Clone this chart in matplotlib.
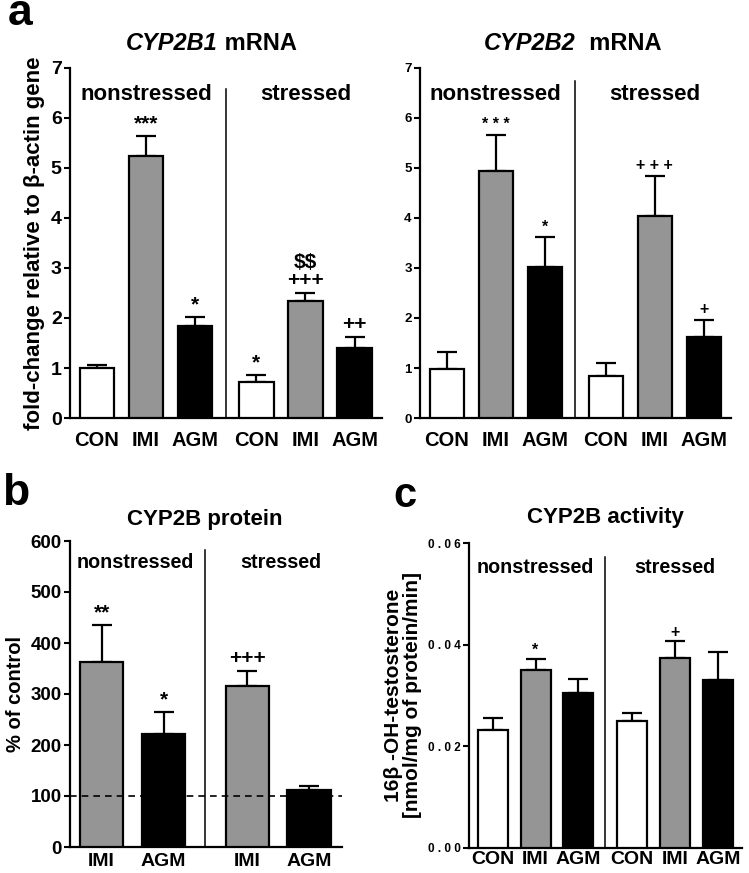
import numpy as np
import matplotlib
matplotlib.use("Agg")
import matplotlib.pyplot as plt

plt.rcParams['font.family'] = ['Liberation Sans', 'DejaVu Sans']
plt.rcParams['font.weight'] = 'bold'

# ---------------- data ----------------
groups3 = ["CON", "IMI", "AGM", "CON", "IMI", "AGM"]
groups2 = ["IMI", "AGM", "IMI", "AGM"]
colors3 = ["white", "#959595", "black", "white", "#959595", "black"]
colors2 = ["#959595", "black", "#959595", "black"]

b1_mean = [1.00, 5.25, 1.85, 0.72, 2.35, 1.40]
b1_err = [0.06, 0.40, 0.17, 0.15, 0.15, 0.22]
b1_ann = ["", "***", "*", "*", "$$\n+++", "++"]

b2_mean = [0.98, 4.95, 3.02, 0.85, 4.05, 1.62]
b2_err = [0.35, 0.72, 0.60, 0.26, 0.80, 0.35]
b2_ann = ["", "* * *", "*", "", "+ + +", "+"]

prot_mean = [362, 222, 315, 112]
prot_err = [73, 43, 30, 8]
prot_ann = ["**", "*", "+++", ""]

act_mean = [0.0232, 0.0350, 0.0305, 0.0250, 0.0373, 0.0330]
act_err = [0.0023, 0.0022, 0.0027, 0.0015, 0.0034, 0.0056]
act_ann = ["", "*", "", "", "+", ""]
act_ticks = ["0.00", "0.02", "0.04", "0.06"]

W, H = 749, 873
fig = plt.figure(figsize=(W / 100, H / 100), dpi=100)


def px_axes(l, r, b, t):
    return fig.add_axes([l / W, 1 - b / H, (r - l) / W, (b - t) / H])


def style(ax, tsize, xsize, xpad):
    for s in ["top", "right"]:
        ax.spines[s].set_visible(False)
    for s in ["left", "bottom"]:
        ax.spines[s].set_linewidth(1.6)
    ax.tick_params(axis='y', length=4, width=1.5, labelsize=tsize, pad=2)
    ax.tick_params(axis='x', length=0, labelsize=xsize, pad=xpad)
    for lab in ax.get_xticklabels() + ax.get_yticklabels():
        lab.set_fontweight('bold')


def draw(ax, pos, means, errs, cols, names, ann, ann_size, ann_gap):
    ax.bar(pos, means, width=0.7, color=cols, edgecolor='black', linewidth=1.6, zorder=3)
    ax.errorbar(pos, means, yerr=[np.zeros(len(means)), errs], fmt='none',
                ecolor='black', elinewidth=1.6, capsize=7, capthick=1.6, zorder=2)
    ax.set_xticks(pos)
    ax.set_xticklabels(names)
    for x, m, e, a in zip(pos, means, errs, ann):
        if a:
            ax.text(x, m + e + ann_gap, a, ha='center', va='bottom', fontsize=ann_size,
                    fontweight='bold', linespacing=0.95, parse_math=False)


pos3 = np.concatenate([np.arange(3), np.arange(3) + 3.25])
pos2 = np.concatenate([np.arange(2), np.arange(2) + 2.35])

# ---------- panel a left ----------
ax1 = px_axes(70, 382, 418, 68)
draw(ax1, pos3, b1_mean, b1_err, colors3, groups3, b1_ann, 15, 0.05)
ax1.set_ylim(0, 7)
ax1.set_xlim(-0.55, 5.81)
ax1.set_yticks(range(0, 8))
style(ax1, 14, 14.5, 9.5)
ax1.set_ylabel("fold-change relative to β-actin gene", fontsize=16, fontweight='bold', labelpad=4)
div = (pos3[2] + pos3[3]) / 2
ax1.plot([div, div], [0, 6.58], color='black', lw=1.1)
ax1.text(pos3[1], 6.46, "nonstressed", ha='center', va='center', fontsize=16, fontweight='bold')
ax1.text(pos3[4], 6.46, "stressed", ha='center', va='center', fontsize=16, fontweight='bold')

# ---------- panel a right ----------
ax2 = px_axes(420, 731, 418, 68)
draw(ax2, pos3, b2_mean, b2_err, colors3, groups3, b2_ann, 11.5, 0.05)
ax2.set_ylim(0, 7)
ax2.set_xlim(-0.55, 5.81)
ax2.set_yticks(range(0, 8))
style(ax2, 9.5, 14.5, 9.5)
ax2.plot([div, div], [0, 6.74], color='black', lw=1.1)
ax2.text(pos3[1], 6.46, "nonstressed", ha='center', va='center', fontsize=16, fontweight='bold')
ax2.text(pos3[4], 6.46, "stressed", ha='center', va='center', fontsize=16, fontweight='bold')

# ---------- panel b ----------
ax3 = px_axes(70, 342, 847, 541)
draw(ax3, pos2, prot_mean, prot_err, colors2, groups2, prot_ann, 15, 5)
ax3.set_ylim(0, 600)
ax3.set_xlim(-0.51, 3.88)
ax3.set_yticks(range(0, 700, 100))
style(ax3, 13.5, 14, 4.5)
ax3.set_ylabel("% of control", fontsize=14.5, fontweight='bold', labelpad=4)
div2 = (pos2[1] + pos2[2]) / 2
ax3.plot([div2, div2], [0, 582], color='black', lw=1.1)
ax3.axhline(100, ls=(0, (4, 3)), color='black', lw=1.2, zorder=4, clip_on=False)
ax3.text(0.55, 557, "nonstressed", ha='center', va='center', fontsize=14.2, fontweight='bold')
ax3.text(pos2[2] + 0.55, 557, "stressed", ha='center', va='center', fontsize=14.2, fontweight='bold')

# ---------- panel c ----------
ax4 = px_axes(469, 742, 848, 543)
draw(ax4, pos3, act_mean, act_err, colors3, groups3, act_ann, 11.5, 0.0003)
ax4.set_ylim(0, 0.06)
ax4.set_xlim(-0.55, 5.81)
ax4.set_yticks([0, 0.02, 0.04, 0.06])
ax4.set_yticklabels([" ".join(t) for t in act_ticks])
style(ax4, 8.5, 14, 2.0)
ax4.set_ylabel("16β -OH-testosterone\n[nmol/mg of protein/min]", fontsize=15,
               fontweight='bold', labelpad=4, linespacing=1.0)
ax4.plot([div, div], [0, 0.0572], color='black', lw=1.1)
ax4.text(pos3[1], 0.0551, "nonstressed", ha='center', va='center', fontsize=14.2, fontweight='bold')
ax4.text(pos3[4], 0.0551, "stressed", ha='center', va='center', fontsize=14.2, fontweight='bold')

# ---------- titles & panel letters ----------
fig.text(218 / W, 1 - 43 / H, "CYP2B1", ha='right', va='center', fontsize=17,
         fontweight='bold', style='italic')
fig.text(218 / W, 1 - 43 / H, " mRNA", ha='left', va='center', fontsize=17, fontweight='bold')
fig.text(576 / W, 1 - 43 / H, "CYP2B2", ha='right', va='center', fontsize=17,
         fontweight='bold', style='italic')
fig.text(576 / W, 1 - 43 / H, "  mRNA", ha='left', va='center', fontsize=17, fontweight='bold')
fig.text(205 / W, 1 - 520 / H, "CYP2B protein", ha='center', va='center', fontsize=16, fontweight='bold')
fig.text(605 / W, 1 - 518 / H, "CYP2B activity", ha='center', va='center', fontsize=16, fontweight='bold')

fig.text(8 / W, 1 - 25 / H, "a", ha='left', va='baseline', fontsize=32, fontweight='bold')
fig.text(2 / W, 1 - 505 / H, "b", ha='left', va='baseline', fontsize=32, fontweight='bold')
fig.text(393 / W, 1 - 507 / H, "c", ha='left', va='baseline', fontsize=30, fontweight='bold')

fig.savefig("out.png", dpi=100)
